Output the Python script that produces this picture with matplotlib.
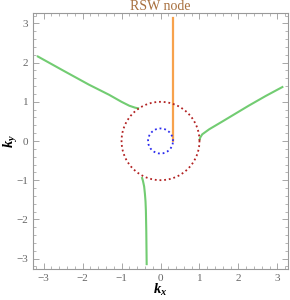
import matplotlib
matplotlib.use("Agg")
import matplotlib.pyplot as plt
import numpy as np
from matplotlib.ticker import MultipleLocator

plt.rcParams["font.family"] = ["Liberation Serif", "DejaVu Serif"]
plt.rcParams["mathtext.fontset"] = "custom"
plt.rcParams["mathtext.it"] = "Liberation Serif:italic:bold"
plt.rcParams["mathtext.rm"] = "Liberation Serif:bold"

# green branches (kx, ky)
branch_ul_x = [-3.17, -2.5, -1.84, -1.32, -1.0, -0.8, -0.65, -0.55]
branch_ul_y = [2.17, 1.80, 1.44, 1.18, 1.0, 0.9, 0.85, 0.83]
branch_r_x = [1.0, 1.02, 1.07, 1.25, 1.59, 2.26, 2.7, 3.15]
branch_r_y = [0.02, 0.09, 0.17, 0.30, 0.50, 0.90, 1.15, 1.39]
branch_lo_x = [-0.48, -0.45, -0.42, -0.40, -0.385, -0.375, -0.365, -0.355]
branch_lo_y = [-0.92, -1.02, -1.16, -1.35, -1.54, -1.78, -2.3, -3.17]

# orange line
orange_x = [0.32, 0.32]
orange_y = [0.0, 3.14]

# circles
r_outer = 1.0
r_inner = 0.32

fig = plt.figure(figsize=(2.9, 3.0), dpi=100)
ax = fig.add_axes([0.114, 0.103, 0.879, 0.854])

green = "#72cc72"
for bx, by in [(branch_ul_x, branch_ul_y), (branch_r_x, branch_r_y), (branch_lo_x, branch_lo_y)]:
    ax.plot(bx, by, color=green, lw=1.5, solid_capstyle="butt")

ax.plot(orange_x, orange_y, color="#f7a24c", lw=1.6)

t = np.linspace(0, 2 * np.pi, 400)
ax.plot(r_outer * np.cos(t), r_outer * np.sin(t), color="#b22222", lw=1.3, ls=(0, (1, 1.6)))
ax.plot(r_inner * np.cos(t), r_inner * np.sin(t), color="#2a2aee", lw=1.3, ls=(0, (1, 1.6)))

ax.set_xlim(-3.27, 3.27)
ax.set_ylim(-3.27, 3.27)

ax.xaxis.set_major_locator(MultipleLocator(1))
ax.yaxis.set_major_locator(MultipleLocator(1))
ax.xaxis.set_minor_locator(MultipleLocator(0.2))
ax.yaxis.set_minor_locator(MultipleLocator(0.2))
ax.tick_params(which="both", direction="in", top=True, right=True, colors="#999999",
               labelcolor="#666666", labelsize=8)
ax.tick_params(which="major", length=4, width=0.6)
ax.tick_params(which="minor", length=2, width=0.5)
for s in ax.spines.values():
    s.set_color("#999999")
    s.set_linewidth(0.8)

ax.set_xlabel(r"$k_x$", fontsize=10.5, va="center")
ax.set_ylabel(r"$k_y$", fontsize=10.5, va="center")
ax.xaxis.set_label_coords(0.5, -0.083)
ax.yaxis.set_label_coords(-0.088, 0.5)
ax.set_title("RSW node", color="#a8703e", fontsize=10, pad=2)

fig.savefig("out.png", dpi=100)
